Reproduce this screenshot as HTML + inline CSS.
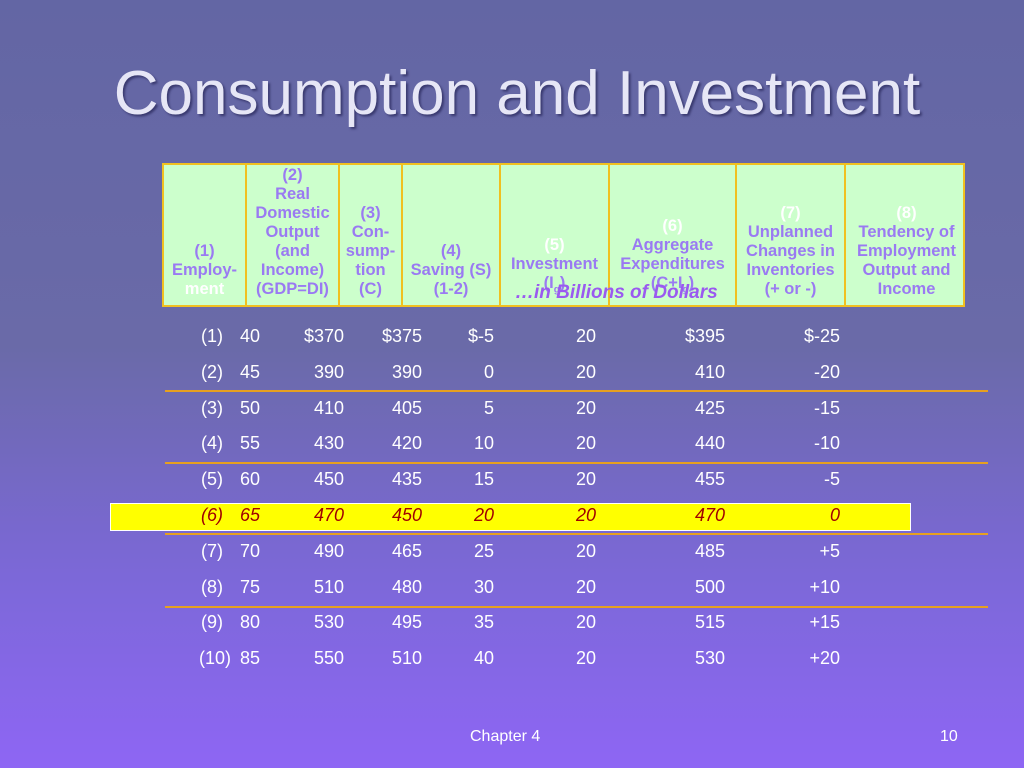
<!DOCTYPE html>
<html><head><meta charset="utf-8"><style>
body{margin:0;width:1024px;height:768px;overflow:hidden;position:relative;font-family:"Liberation Sans",sans-serif;background:linear-gradient(180deg,#6366a4 0%,#6a6aa8 45%,#7c68d8 75%,#8e66f4 100%);}
.t{position:absolute;white-space:nowrap}
#title{left:0;width:1034px;text-align:center;top:58px;font-size:62px;color:#e6e6f6;text-shadow:2px 2px 2px #3a3a70}
#hdr{position:absolute;left:162px;top:163px;width:803px;height:144px;background:#ccffcc;border:2px solid #f0c020;box-sizing:border-box}
.hc{position:absolute;top:0;height:100%;border-right:2px solid #f0c020;box-sizing:border-box;color:#9a7af2;font-weight:bold;font-size:16.5px;line-height:19px;text-align:center;display:flex;flex-direction:column;justify-content:flex-end;padding-bottom:6px}
.w{color:#fff}
.cell{position:absolute;color:#fff;font-size:18px}
.hl{color:#a00000;font-style:italic}
.ln{position:absolute;left:165px;width:823px;height:2px;background:#e6a020}
</style></head><body>
<div class="t" id="title">Consumption and Investment</div>
<div id="hdr"></div>
<div id="hl" style="position:absolute;left:110px;top:503px;width:801px;height:28px;background:#ffff00;border:1px solid #fff;box-sizing:border-box"></div>
<div class="t" style="left:515px;top:282px;font-size:19px;font-weight:bold;font-style:italic;color:#9a5af0">…in Billions of Dollars</div>
<div class="t" style="left:470px;top:728px;font-size:16px;color:#fff">Chapter 4</div>
<div class="t" style="left:940px;top:728px;font-size:16px;color:#fff">10</div>
<script>
const headers=[
 ["(1)","Employ-","<span class=w>ment</span>"],
 ["(2)","Real","Domestic","Output","(and","Income)","(GDP=DI)"],
 ["(3)","Con-","sump-","tion","(C)"],
 ["(4)","Saving (S)","(1-2)"],
 ["<span class=w>(5)</span>","Investment","(I<sub style='font-size:10px'>g</sub>)",""],
 ["<span class=w>(6)</span>","Aggregate","Expenditures","(C+I<sub style='font-size:10px'>g</sub>)"],
 ["<span class=w>(7)</span>","Unplanned","Changes in","Inventories","(+ or -)"],
 ["<span class=w>(8)</span>","Tendency of","Employment","Output and","Income"]];
const bounds=[0,83,176,239,337,446,573,682,803];
const hdr=document.getElementById('hdr');
headers.forEach((h,i)=>{const d=document.createElement('div');d.className='hc';


d.style.left=bounds[i]+'px';d.style.width=(bounds[i+1]-bounds[i])+'px';
if(i==7)d.style.borderRight='none';
d.innerHTML=h.map(s=>'<div>'+s+'</div>').join('');hdr.appendChild(d);});
const rowLabels=["(1)","(2)","(3)","(4)","(5)","(6)","(7)","(8)","(9)","(10)"];
const employment=[40,45,50,55,60,65,70,75,80,85];
const gdp=["$370","390","410","430","450","470","490","510","530","550"];
const consumption=["$375","390","405","420","435","450","465","480","495","510"];
const saving=["$-5","0","5","10","15","20","25","30","35","40"];
const investment=["20","20","20","20","20","20","20","20","20","20"];
const aggExp=["$395","410","425","440","455","470","485","500","515","530"];
const inventories=["$-25","-20","-15","-10","-5","0","+5","+10","+15","+20"];
const rights=[344,422,494,596,725,840];
rowLabels.forEach((lab,r)=>{const y=326+r*35.8;const h=r==5?' hl':'';
 const add=(txt,name,left,right)=>{const c=document.createElement('div');c.className='cell'+h;
 
 
 c.textContent=txt;c.style.top=y+'px';
 if(left!=null)c.style.left=left+'px';else{c.style.right=(1024-right)+'px';}
 document.body.appendChild(c);};
 add(lab,'row-label-'+(r+1),r==9?199:201,null);
 add(String(employment[r]),'employment-'+(r+1),240,null);
 [gdp,consumption,saving,investment,aggExp,inventories].forEach((arr,k)=>add(arr[r],'cell-r'+(r+1)+'-c'+(k+2),null,rights[k]));
});
[390,462,533,606].forEach((y,i)=>{const l=document.createElement('div');l.className='ln';


l.style.top=y+'px';document.body.appendChild(l);});
</script>
</body></html>
